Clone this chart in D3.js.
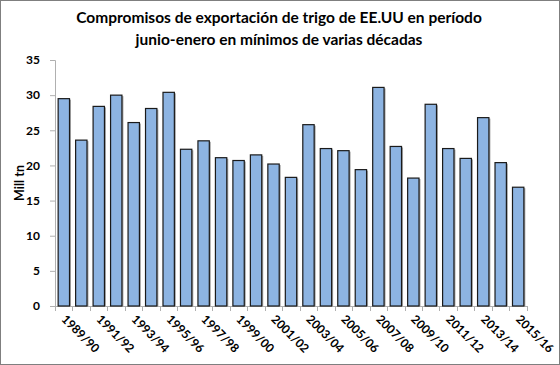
<!DOCTYPE html>
<html>
<head>
<meta charset="utf-8">
<script src="https://cdn.jsdelivr.net/npm/d3@7"></script>
<style>
  body { margin: 0; background: #fff; }
  svg { font-family: Lato, "Open Sans", sans-serif; }
</style>
</head>
<body>
<script>
const seasons = ['1989/90','1990/91','1991/92','1992/93','1993/94','1994/95','1995/96','1996/97',
  '1997/98','1998/99','1999/00','2000/01','2001/02','2002/03','2003/04','2004/05','2005/06',
  '2006/07','2007/08','2008/09','2009/10','2010/11','2011/12','2012/13','2013/14','2014/15','2015/16']
const values = [29.5, 23.6, 28.4, 30.0, 26.1, 28.1, 30.4, 22.3, 23.5, 21.1, 20.7, 21.5, 20.2,
  18.3, 25.8, 22.4, 22.1, 19.4, 31.1, 22.7, 18.2, 28.7, 22.4, 21.0, 26.8, 20.4, 16.9]
const yTicks = [0, 5, 10, 15, 20, 25, 30, 35]
const titleLines = ['Compromisos de exportación de trigo de EE.UU en período', 'junio-enero en mínimos de varias décadas']

const width = 560
const height = 365
const margin = {top: 60, right: 33, bottom: 59, left: 55}

const svg = d3.select('body').append('svg')
  .attr('width', width)
  .attr('height', height)

svg.append('rect')
  .attr('x', 0.5).attr('y', 0.5)
  .attr('width', width - 1).attr('height', height - 1)
  .attr('fill', '#fff')
  .attr('stroke', '#7f7f7f')

svg.append('g').selectAll('text')
  .data(titleLines)
  .enter()
  .append('text')
  .attr('x', width / 2 - 1)
  .attr('y', (d, i) => 23 + i * 22)
  .attr('text-anchor', 'middle')
  .attr('font-size', 15.5)
  .attr('font-weight', 'bold')
  .text(d => d)

const innerW = width - margin.left - margin.right
const innerH = height - margin.top - margin.bottom

const chart = svg.append('g')
  .attr('transform', `translate(${margin.left}, ${margin.top})`)

const xScale = d3.scaleBand()
  .domain(seasons)
  .range([0, innerW])
  .paddingInner(0.35)
  .paddingOuter(0.18)

const yScale = d3.scaleLinear()
  .domain([0, 35])
  .range([innerH, 0])

// y axis
const yAxis = chart.append('g')
  .call(d3.axisLeft(yScale).tickValues(yTicks).tickSize(5).tickPadding(10))
yAxis.select('.domain').attr('stroke', '#b0b0b0')
yAxis.selectAll('.tick line').attr('stroke', '#b0b0b0')
yAxis.selectAll('text')
  .attr('font-size', 12)
  .attr('font-weight', 'bold')
  .attr('font-family', 'Lato, sans-serif')
  .attr('fill', '#000')

// x axis baseline + boundary ticks
const step = xScale.step()
const x0 = xScale(seasons[0]) - xScale.paddingOuter() * step
chart.append('line')
  .attr('x1', 0).attr('x2', innerW)
  .attr('y1', innerH + 0.5).attr('y2', innerH + 0.5)
  .attr('stroke', '#b0b0b0')
chart.append('g').selectAll('line')
  .data(d3.range(seasons.length + 1))
  .enter()
  .append('line')
  .attr('x1', i => Math.round(x0 + i * step) + 0.5)
  .attr('x2', i => Math.round(x0 + i * step) + 0.5)
  .attr('y1', innerH)
  .attr('y2', innerH + 5)
  .attr('stroke', '#b0b0b0')

// bars with light shadow
chart.append('g').selectAll('rect')
  .data(values)
  .enter()
  .append('rect')
  .attr('x', (d, i) => xScale(seasons[i]) + 1.5)
  .attr('y', d => yScale(d) + 1)
  .attr('width', xScale.bandwidth())
  .attr('height', d => innerH - yScale(d) - 1)
  .attr('fill', '#a6a6a6')

chart.append('g').selectAll('rect')
  .data(values)
  .enter()
  .append('rect')
  .attr('x', (d, i) => xScale(seasons[i]))
  .attr('y', d => yScale(d))
  .attr('width', xScale.bandwidth())
  .attr('height', d => innerH - yScale(d))
  .attr('fill', '#8db4e2')
  .attr('stroke', '#1a1a1a')
  .attr('stroke-width', 1.2)

// x labels, every other season, rotated
chart.append('g').selectAll('text')
  .data(seasons.filter((d, i) => i % 2 === 0))
  .enter()
  .append('text')
  .attr('transform', d => `translate(${xScale(d) + xScale.bandwidth() / 2 - 3}, ${innerH + 14}) rotate(45)`)
  .attr('font-size', 12)
  .attr('font-weight', 'bold')
  .text(d => d)

svg.append('text')
  .attr('transform', `translate(24, ${margin.top + innerH / 2}) rotate(-90)`)
  .attr('text-anchor', 'middle')
  .attr('font-size', 12.5)
  .attr('font-weight', 'bold')
  .text('Mill tn')
</script>
</body>
</html>
